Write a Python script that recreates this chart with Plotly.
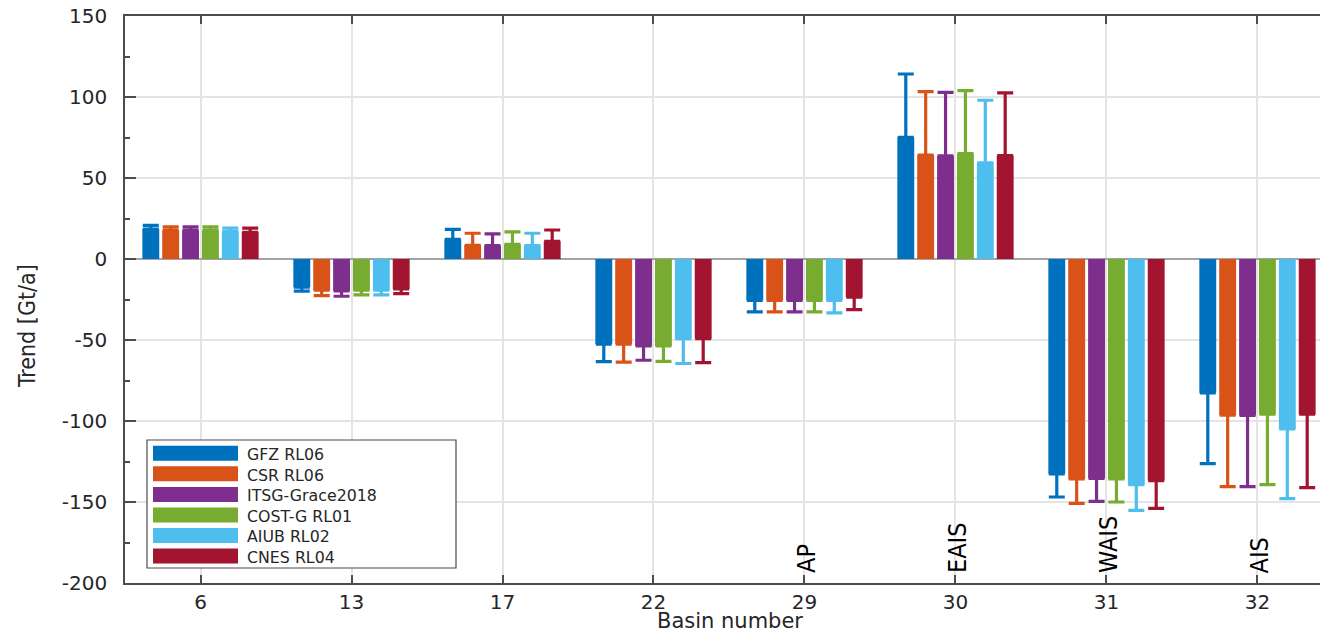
import plotly.graph_objects as go

# ---------------- data ----------------
basins = ["6", "13", "17", "22", "29", "30", "31", "32"]
region_labels = ["", "", "", "", "AP", "EAIS", "WAIS", "AIS"]

series_names = ["GFZ RL06", "CSR RL06", "ITSG-Grace2018", "COST-G RL01", "AIUB RL02", "CNES RL04"]
series_colors = ["#0072BD", "#D95319", "#7E2F8E", "#77AC30", "#4DBEEE", "#A2142F"]

gfz_trend = [18.5, -17.3, 12.2, -52.5, -25.5, 75.1, -132.6, -82.6]
gfz_err = [2.3, 2.5, 6.1, 10.9, 7.2, 39.1, 14.3, 43.7]
csr_trend = [17.7, -19.3, 8.5, -52.5, -25.5, 64.2, -135.8, -96.4]
csr_err = [2.1, 3.3, 7.4, 11.1, 7.2, 39.1, 15.1, 44.1]
itsg_trend = [17.7, -19.7, 8.2, -53.7, -25.5, 63.6, -135.4, -96.6]
itsg_err = [2.1, 3.3, 7.3, 8.8, 7.2, 39.3, 14.2, 43.9]
costg_trend = [17.7, -19.3, 9.0, -53.7, -25.5, 65.0, -135.8, -95.8]
costg_err = [2.1, 2.9, 7.7, 9.5, 7.2, 38.9, 14.2, 43.5]
aiub_trend = [16.9, -19.3, 8.2, -49.2, -25.5, 59.4, -139.3, -104.9]
aiub_err = [2.2, 2.9, 7.7, 15.3, 7.8, 38.6, 15.9, 43.0]
cnes_trend = [16.5, -18.5, 10.9, -49.2, -23.5, 63.8, -136.8, -95.8]
cnes_err = [2.5, 2.9, 7.0, 14.8, 7.8, 38.8, 17.1, 45.3]

trends = [gfz_trend, csr_trend, itsg_trend, costg_trend, aiub_trend, cnes_trend]
errors = [gfz_err, csr_err, itsg_err, costg_err, aiub_err, cnes_err]

y_ticks = [-200, -150, -100, -50, 0, 50, 100, 150]
y_ticktext = [str(v) for v in y_ticks]

# ---------------- figure ----------------
W, H = 1320, 634
ML, MR, MT, MB = 125, 0, 16, 51
PW, PH = W - ML - MR, H - MT - MB

TXT = "#262626"
AXC = "#4d4d4d"
FONT = "DejaVu Sans"
NARROW = "Liberation Sans Narrow, DejaVu Sans Condensed, Liberation Sans, sans-serif"

fig = go.Figure()
for name, color, vals, errs in zip(series_names, series_colors, trends, errors):
    plus = [e if v >= 0 else 0 for v, e in zip(vals, errs)]
    minus = [e if v < 0 else 0 for v, e in zip(vals, errs)]
    fig.add_trace(go.Bar(
        x=basins, y=vals, name=name,
        marker=dict(color=color, line=dict(width=0)),
        error_y=dict(type="data", symmetric=False, array=plus, arrayminus=minus,
                     color=color, thickness=3.2, width=8),
        showlegend=False,
    ))

def px_x(p):
    return (p - ML) / PW

def px_y(p):
    return (H - MB - p) / PH

shapes = []
annotations = []

# custom legend (box, swatches, one multi-line label block)
LEG_FS = 15.8            # line pitch = 1.3 * font size ~ 20.5 px
pitch = 1.3 * LEG_FS
shapes.append(dict(type="rect", xref="paper", yref="paper",
                   x0=px_x(147), x1=px_x(456), y0=px_y(568), y1=px_y(440),
                   line=dict(color=AXC, width=1.2), fillcolor="white", layer="above"))
first_cy = 453.3
for i, color in enumerate(series_colors):
    cy = first_cy + i * pitch
    shapes.append(dict(type="rect", xref="paper", yref="paper",
                       x0=px_x(153), x1=px_x(238), y0=px_y(cy + 7.5), y1=px_y(cy - 7.5),
                       line=dict(width=0), fillcolor=color, layer="above"))
mid_cy = first_cy + (len(series_names) - 1) * pitch / 2
annotations.append(dict(xref="paper", yref="paper", x=px_x(245), y=px_y(mid_cy + 1),
                        xanchor="left", yanchor="middle", align="left",
                        text="<br>".join(series_names), showarrow=False,
                        font=dict(family=FONT, size=LEG_FS, color=TXT)))

# region labels (rotated) - category axis positions given by index
for idx, lab in enumerate(region_labels):
    if lab:
        annotations.append(dict(x=idx, y=-200, xref="x", yref="y", text=lab, textangle=-90,
                                xanchor="center", yanchor="bottom", yshift=8, xshift=2,
                                showarrow=False,
                                font=dict(family=NARROW, size=25, color="black")))

# axis titles
annotations.append(dict(xref="paper", yref="paper", x=px_x(27), y=px_y(326), text="Trend [Gt/a]",
                        textangle=-90, showarrow=False, xanchor="center", yanchor="middle",
                        font=dict(family=NARROW, size=23, color=TXT)))
annotations.append(dict(xref="paper", yref="paper", x=px_x(730), y=px_y(621), text="Basin number",
                        showarrow=False, xanchor="center", yanchor="middle",
                        font=dict(family=FONT, size=21, color=TXT)))

fig.update_layout(
    width=W, height=H,
    margin=dict(l=ML, r=MR, t=MT, b=MB, pad=0),
    paper_bgcolor="white", plot_bgcolor="white",
    barmode="group", bargap=0.21, bargroupgap=0.15,
    shapes=shapes, annotations=annotations,
    showlegend=False,
    xaxis=dict(
        type="category", range=[-0.5, 7.414],
        showgrid=True, gridcolor="#e4e4e4", gridwidth=1.5,
        showline=True, linecolor=AXC, linewidth=1.5, mirror="ticks",
        ticks="inside", ticklen=8, tickwidth=1.5, tickcolor=AXC,
        tickfont=dict(family=FONT, size=20, color=TXT), ticklabelstandoff=0,
    ),
    yaxis=dict(
        range=[-200, 150], tickvals=y_ticks, ticktext=y_ticktext,
        showgrid=True, gridcolor="#e4e4e4", gridwidth=1.5,
        zeroline=True, zerolinecolor="#a3a3a3", zerolinewidth=2,
        showline=True, linecolor=AXC, linewidth=1.5, mirror=False,
        ticks="inside", ticklen=11, tickwidth=1.5, tickcolor=AXC,
        minor=dict(ticks="inside", dtick=25, ticklen=5, tickcolor=AXC, showgrid=False),
        tickfont=dict(family=FONT, size=20, color=TXT), ticklabelstandoff=12,
    ),
)

fig.write_html("out.html", config={"displayModeBar": False},
               post_script="document.body.style.margin='0';document.body.style.overflow='hidden';")
